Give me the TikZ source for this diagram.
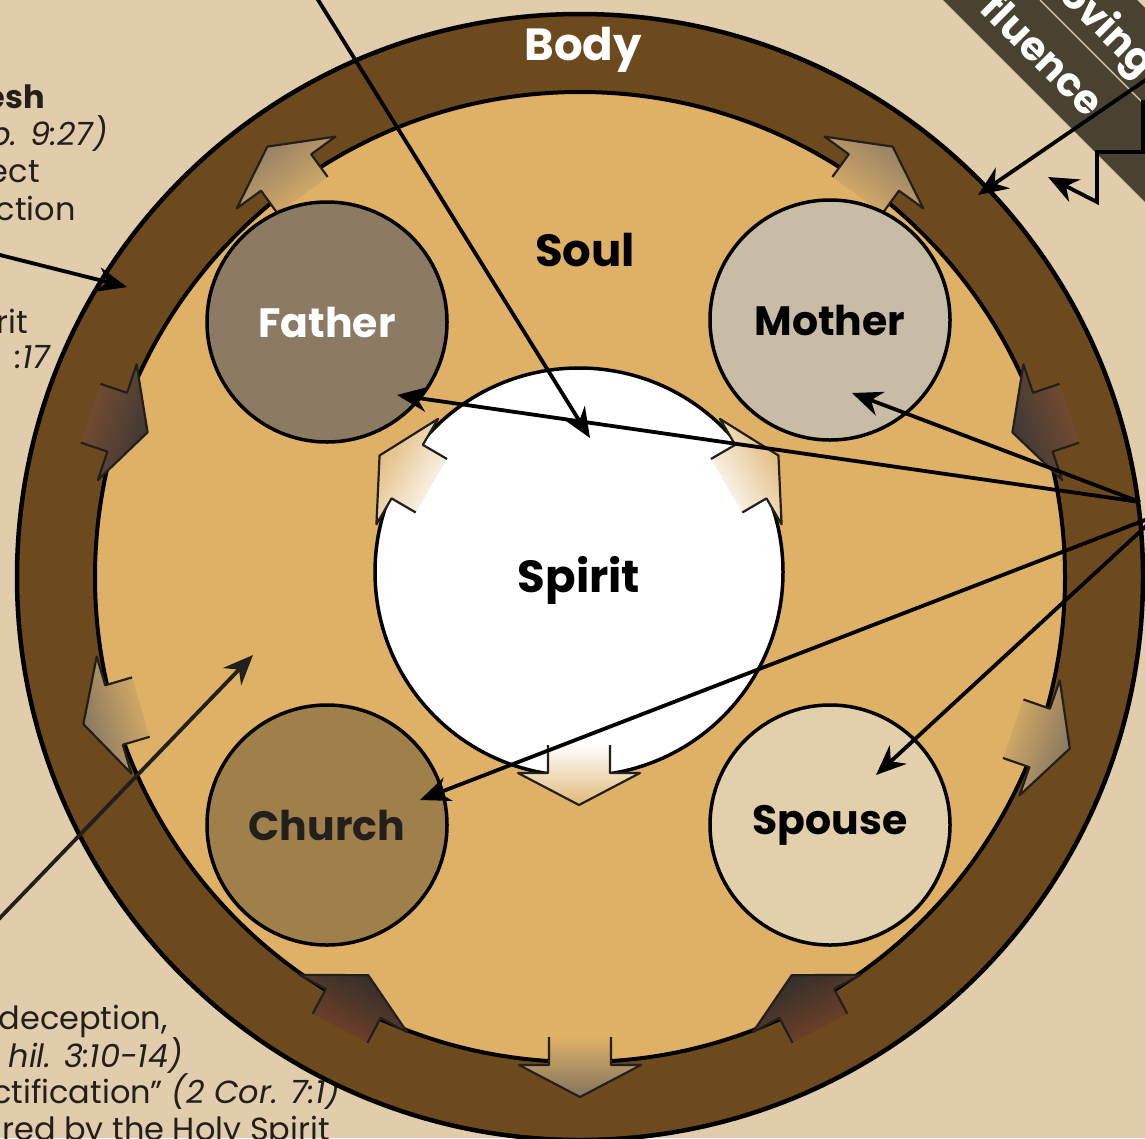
\documentclass[tikz,border=0pt]{standalone}
\usepackage{fontspec}
\setmainfont{Poppins}
\usetikzlibrary{calc,arrows.meta}

\definecolor{paper}{HTML}{E1CDAB}
\definecolor{bodybrown}{HTML}{6D4A1E}
\definecolor{soultan}{HTML}{DFB167}
\definecolor{fathergray}{HTML}{8C7A62}
\definecolor{mothergray}{HTML}{C8BCA6}
\definecolor{churchtan}{HTML}{A0804A}
\definecolor{spousetan}{HTML}{E2CFAC}
\definecolor{ink}{HTML}{231F1C}
\definecolor{banner}{HTML}{4A4230}
\definecolor{outhead}{HTML}{8E7C66}
\definecolor{lowhead}{HTML}{82745F}
\definecolor{inhead}{HTML}{3A3735}
\definecolor{intail}{HTML}{7E4E30}
\definecolor{deephead}{HTML}{2F2D2C}
\definecolor{deeptail}{HTML}{7A4426}
\definecolor{spirithead}{HTML}{E0B878}

\newcommand{\flowarrow}[6]{%
  \pgfmathsetmacro{\tipr}{#3+#4*32}%
  \pgfmathsetmacro{\tailr}{#3-#4*28}%
  \pgfmathsetmacro{\shadeang}{#2+90*(1-#4)-90}%
  \coordinate (fa1) at ($(#1)+(#2:\tailr)+(#2+90:31)$);
  \coordinate (fa2) at ($(#1)+(#2:#3)+(#2+90:31)$);
  \coordinate (fa3) at ($(#1)+(#2:#3)+(#2+90:61)$);
  \coordinate (fa4) at ($(#1)+(#2:\tipr)$);
  \coordinate (fa5) at ($(#1)+(#2:#3)+(#2-90:61)$);
  \coordinate (fa6) at ($(#1)+(#2:#3)+(#2-90:31)$);
  \coordinate (fa7) at ($(#1)+(#2:\tailr)+(#2-90:31)$);
  \shade[top color=#6, bottom color=#5, shading angle=\shadeang] (fa1) -- (fa2) -- (fa3) -- (fa4) -- (fa5) -- (fa6) -- (fa7) -- cycle;
  \draw[flowedge] (fa1) -- (fa2) -- (fa3) -- (fa4) -- (fa5) -- (fa6) -- (fa7);
}

\begin{document}
\begin{tikzpicture}[x=1pt, y=1pt,
  member/.style={circle, draw, line width=3.5pt, minimum size=240pt, inner sep=0pt, font=\fontsize{41}{41}\selectfont\bfseries},
  title/.style={font=\fontsize{45}{45}\selectfont\bfseries},
  note/.style={anchor=base east, text=ink, inner sep=0pt, font=\fontsize{32}{37}\selectfont},
  link/.style={draw=black, line width=3.8pt, -{Stealth[length=30pt,width=25pt]}},
  flowedge/.style={draw=ink, line width=2.2pt, line join=round},
  bannertext/.style={text=white, rotate=-45, font=\fontsize{40}{40}\selectfont\bfseries}]

\useasboundingbox (0,0) rectangle (1145,-1138);
\fill[paper] (0,0) rectangle (1145,-1138);

\node[note] (fleshA) at (45,-108) {\bfseries esh};
\node[note] (fleshB) at (108,-145) {\itshape b. 9:27)};
\node[note] (fleshC) at (40,-182) {ect};
\node[note] (fleshD) at (76,-220) {ction};
\node[note] (spiritA) at (28,-333) {rit};
\node[note] (spiritB) at (50,-368) {\itshape :17};
\node[note] (sanctA) at (168,-1029) {deception,};
\node[note] (sanctB) at (183,-1067) {\itshape hil. 3:10-14)};
\node[note] (sanctC) at (340,-1103) {ctification” {\itshape (2 Cor. 7:1)}};
\node[note] (sanctD) at (330,-1140) {red by the Holy Spirit};

\fill[banner] (943,0) -- (1137,0) -- (1150,-13) -- (1150,-207) -- cycle;
\draw[paper, line width=1.2pt] (1040,0) -- (1150,-110);
\node[bannertext] (lovingtxt) at (1106,-30) {oving};
\node[bannertext] (influencetxt) at (1044,-54) {fluence};

\node[circle, draw, line width=4.5pt, fill=bodybrown, minimum size=1126pt] (body) at (580,-577) {};
\node[circle, draw, line width=4pt, fill=soultan, minimum size=970pt] (soul) at (580,-577) {};

\flowarrow{soul.center}{126}{500}{1}{soultan}{outhead}
\flowarrow{soul.center}{54}{500}{1}{soultan}{outhead}
\flowarrow{soul.center}{161.5}{488}{-1}{intail}{inhead}
\flowarrow{soul.center}{18.5}{488}{-1}{intail}{inhead}
\flowarrow{soul.center}{196.5}{486}{1}{soultan}{lowhead}
\flowarrow{soul.center}{340.7}{487}{1}{soultan}{lowhead}
\flowarrow{soul.center}{242}{483}{-1}{deeptail}{deephead}
\flowarrow{soul.center}{298}{483}{-1}{deeptail}{deephead}
\flowarrow{soul.center}{270}{488}{1}{soultan}{lowhead}

\node[member, fill=fathergray, text=white] (father) at (327,-322) {Father};
\node[member, fill=mothergray] (mother) at (830,-320) {Mother};
\node[member, fill=churchtan, text=ink] (church) at (327,-825) {Church};
\node[member, fill=spousetan] (spouse) at (830,-825) {Spouse};

\node[circle, draw, line width=3.5pt, fill=white, minimum size=408pt] (spirit) at (579,-572) {};
\flowarrow{spirit.center}{149.7}{199}{1}{white}{spirithead}
\flowarrow{spirit.center}{30.3}{199}{1}{white}{spirithead}
\flowarrow{spirit.center}{270}{201}{1}{white}{spirithead}

\node[title] (spirittitle) at (579,-580) {Spirit};
\node[title] (soultitle) at (585,-250) {Soul};
\node[title, text=white] (bodytitle) at (583,-50) {Body};

\coordinate (hubA) at (1140,-502);
\coordinate (hubB) at (1158,-515);
\coordinate (fleshsrc) at (-4,-254);
\coordinate (soulsrc) at (-4,-922);
\coordinate (spiritsrc) at (315,5);
\coordinate (lovesrc) at (1150,-77);
\coordinate (zigend) at (1048,-177);

\draw[link] (hubA) -- ([shift={(70,-73)}]father.center);
\draw[link] (hubA) -- ([shift={(22,-73)}]mother.center);
\draw[link] (hubB) -- ([shift={(93,25)}]church.center);
\draw[link] (hubB) -- ([shift={(46,50)}]spouse.center);
\draw[link] (spiritsrc) -- ([shift={(11,134)}]spirit.center);
\draw[link] (fleshsrc) -- ([shift={(-453,290)}]body.center);
\draw[link, draw=ink] (soulsrc) -- ([shift={(-327,-78)}]soul.center);
\draw[link] (lovesrc) -- ([shift={(398,382)}]body.center);
\draw[link] (1143,-100) -- (1143,-152) -- (1097,-152) -- (1097,-202) -- (zigend);
\end{tikzpicture}
\end{document}
